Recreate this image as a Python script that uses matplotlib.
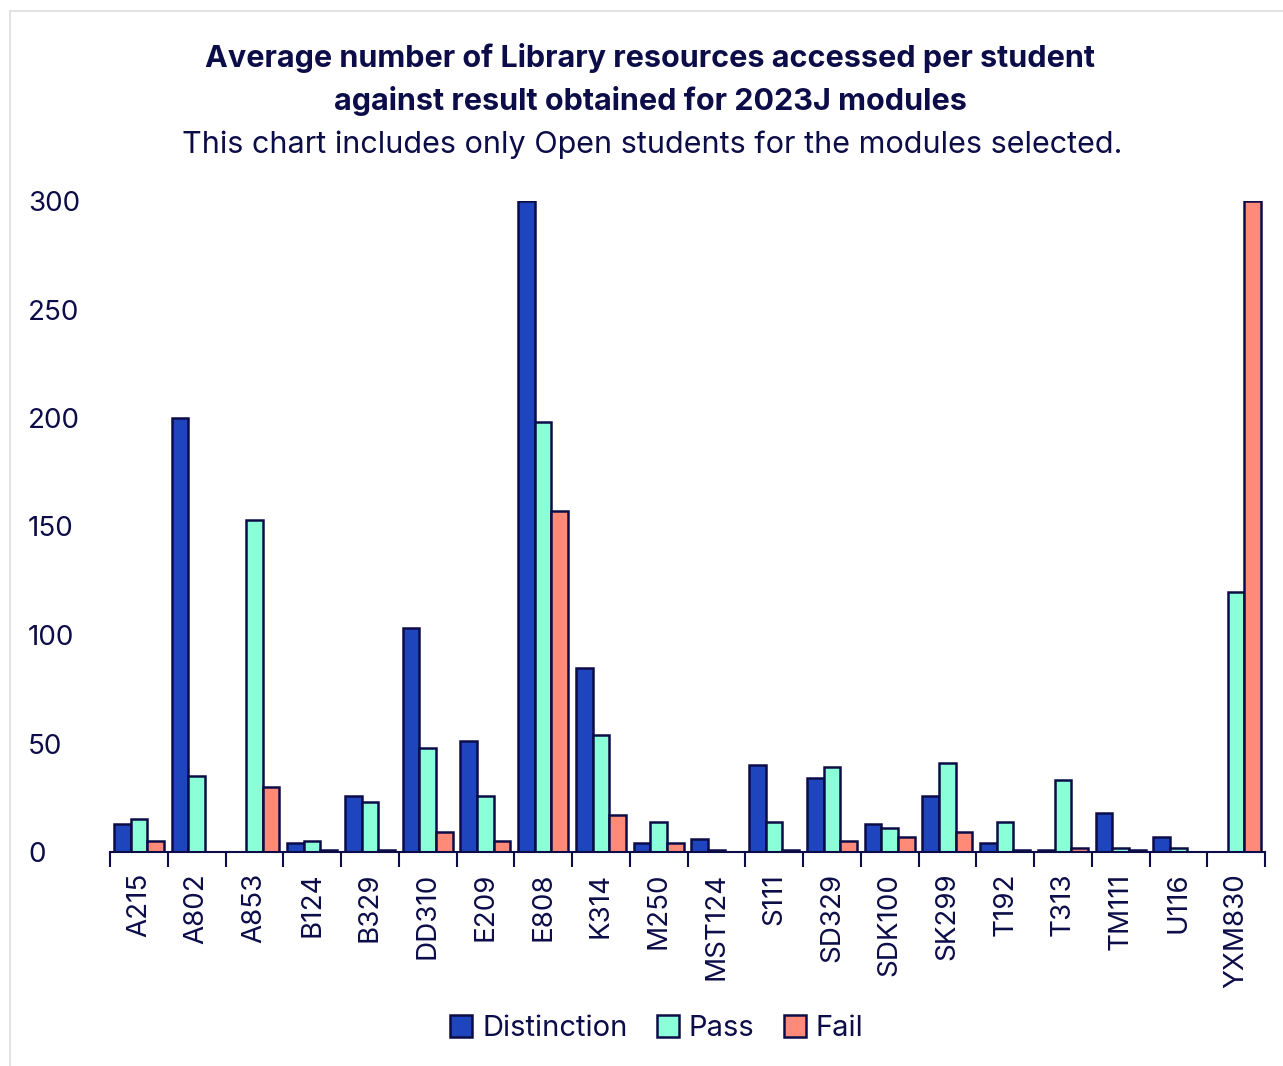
import numpy as np
import matplotlib
matplotlib.use("Agg")
import matplotlib.pyplot as plt
from matplotlib.patches import Rectangle

modules = ["A215", "A802", "A853", "B124", "B329", "DD310", "E209", "E808", "K314", "M250",
           "MST124", "S111", "SD329", "SDK100", "SK299", "T192", "T313", "TM111", "U116", "YXM830"]
distinction = [13, 200, 0, 4, 26, 103, 51, 300, 85, 4, 6, 40, 34, 13, 26, 4, 1, 18, 7, 0]
pass_vals = [15, 35, 153, 5, 23, 48, 26, 198, 54, 14, 1, 14, 39, 11, 41, 14, 33, 2, 2, 120]
fail = [5, 0, 30, 1, 1, 9, 5, 157, 17, 4, 0, 1, 5, 7, 9, 1, 2, 1, 0, 300]
series_names = ["Distinction", "Pass", "Fail"]
y_ticks = [0, 50, 100, 150, 200, 250, 300]

navy = "#0c0c48"
colors = ["#1e45bd", "#8affd8", "#ff8a78"]

plt.rcParams['font.family'] = ['Inter', 'DejaVu Sans']

fig = plt.figure(figsize=(12.83, 10.66), dpi=100)
ax = fig.add_axes([110 / 1283, 1 - 852 / 1066, (1265 - 110) / 1283, (852 - 201) / 1066])

x = np.arange(len(modules))
w = 0.29
for i, (vals, name) in enumerate(zip([distinction, pass_vals, fail], series_names)):
    ax.bar(x + (i - 1) * w, vals, w, color=colors[i], edgecolor=navy, linewidth=1.8, label=name)

ax.set_xlim(-0.5, len(modules) - 0.5)
ax.set_ylim(0, 300)
for s in ["top", "right", "left"]:
    ax.spines[s].set_visible(False)
ax.spines["bottom"].set_color(navy)
ax.spines["bottom"].set_linewidth(1.5)

# category boundary ticks below the axis
ax.set_xticks(np.arange(-0.5, len(modules)), minor=False)
ax.set_xticklabels([])
ax.tick_params(axis="x", which="major", direction="out", length=11, width=1.5, color=navy)
ax.set_xticks(x, minor=True)
ax.set_xticklabels(modules, minor=True, rotation=90, fontsize=20, color=navy)
ax.tick_params(axis="x", which="minor", length=0, pad=15)

ax.set_yticks(y_ticks)
ax.set_yticklabels([str(v) for v in y_ticks], fontsize=20, color=navy, ha="left")
ax.tick_params(axis="y", length=0, pad=59)

fig.text(0.507, 0.946, "Average number of Library resources accessed per student",
         ha="center", va="center", fontsize=22, fontweight="bold", color=navy)
fig.text(0.507, 0.905, "against result obtained for 2023J modules",
         ha="center", va="center", fontsize=22, fontweight="bold", color=navy)
fig.text(0.508, 0.864, "This chart includes only Open students for the modules selected.",
         ha="center", va="center", fontsize=22, color=navy)

leg = fig.legend(loc="center", bbox_to_anchor=(0.512, 0.035), ncol=3, frameon=False,
                 fontsize=21, handlelength=0.75, handleheight=0.75, handletextpad=0.35,
                 columnspacing=1.0, labelcolor=navy)

fig.patches.append(Rectangle((10 / 1283, -0.01), 1.1, 1 - 11 / 1066 + 0.01,
                             transform=fig.transFigure, fill=False,
                             edgecolor="#dddddd", linewidth=1.2))

fig.savefig("out.png", dpi=100)
